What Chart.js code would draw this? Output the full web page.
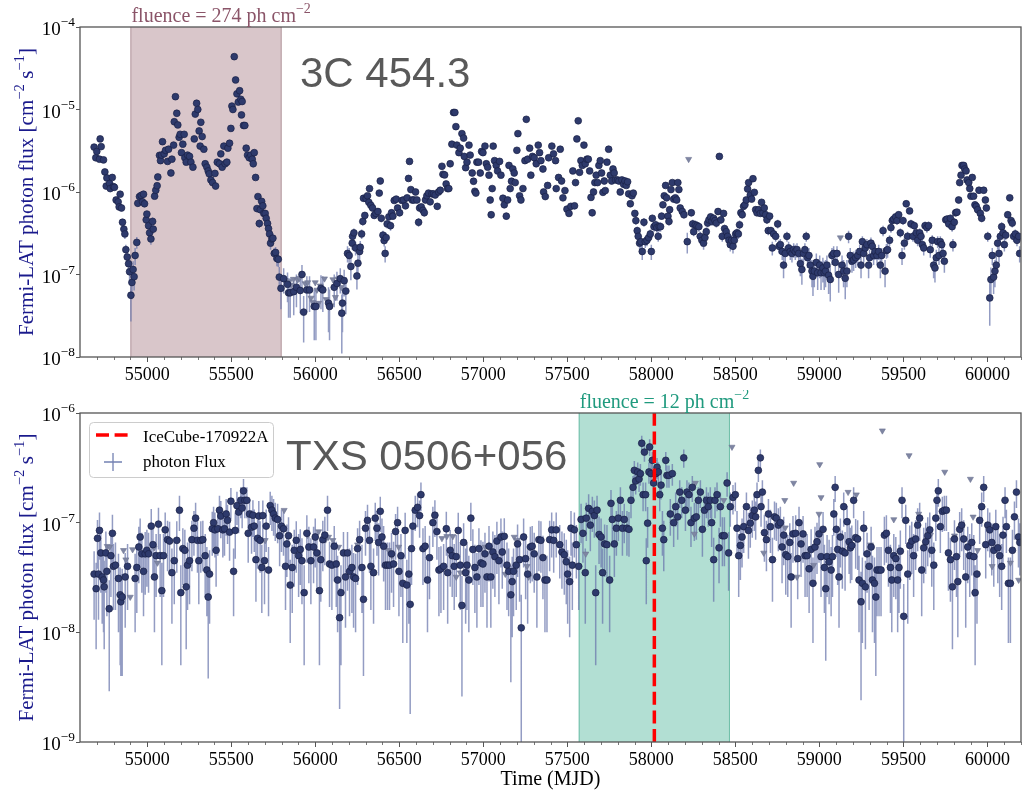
<!DOCTYPE html>
<html>
<head>
<meta charset="utf-8">
<script src="https://cdn.jsdelivr.net/npm/chart.js@4.4.0/dist/chart.umd.min.js"></script>
<style>
  body { margin: 0; background: #fff; }
  #wrap { position: relative; width: 1029px; height: 791px; overflow: hidden; }
  canvas { position: absolute; left: 0; }
</style>
</head>
<body>
<div id="wrap">
  <canvas id="c3c" width="1029" height="390" style="top:0"></canvas>
  <canvas id="ctxs" width="1029" height="401" style="top:390px"></canvas>
</div>
<script>
// fluxes are in units of 1e-8 ph cm^-2 s^-1
const UNIT = 1e-8;

const xTicks = [55000, 55500, 56000, 56500, 57000, 57500, 58000, 58500, 59000, 59500, 60000];
const xRange = [54600, 60200];

// 3C 454.3 weekly bins: [MJD, flux, error]
const obs3C = [
  [54684,350,15],[54694,260,12],[54700,310,14],[54716,250,12],[54720,440,18],[54726,355,15],[54740,245,12],[54748,175,9],[54756,118,7],[54760,148,8],
  [54776,127,7],[54780,110,7],[54792,150,8],[54799,116,7],[54805,114,7],[54815,80,6],[54827,76,6],[54833,66,5],[54839,94,6],[54847,64,5],
  [54853,43,4],[54861,35.5,4],[54867,31,4],[54873,20,3],[54881,16.3,3],[54889,13.5,3],[54895,10.8,3],[54903,5.6,2.9],[54909,8,3],[54916,11.5,3],
  [54922,9.4,3],[54928,17,4],[54938,24.5,4],[54944,73,6],[54954,88,6],[54964,91,6],[54972,76,6],[54978,94,6],[54984,72,6],[54994,46,5],
  [54998,54,5],[55008,39,4],[55014,32,4],[55022,27,4],[55032,44,5],[55036,35.5,4],[55044,89,7],[55051,105,7],[55059,119,8],[55063,152,9],
  [55073,278,14],[55079,240,12],[55085,280,14],[55091,407,18],[55101,290,14],[55109,320,15],[55121,235,12],[55127,330,15],[55141,170,10],[55147,250,12],
  [55157,370,16],[55161,710,25],[55168,1430,40],[55176,900,30],[55182,650,25],[55190,460,20],[55196,500,20],[55204,300,14],[55212,380,16],[55220,500,20],
  [55224,260,13],[55232,230,12],[55240,280,14],[55252,270,13],[55260,230,12],[55272,200,11],[55280,440,18],[55286,880,30],[55294,1190,35],[55301,1000,32],
  [55309,550,22],[55315,360,16],[55319,700,25],[55327,470,20],[55337,330,15],[55345,220,12],[55355,200,11],[55363,180,10],[55369,166,10],[55379,140,9],
  [55389,130,9],[55403,168,10],[55407,118,8],[55417,230,12],[55430,220,12],[55438,290,14],[55446,200,11],[55456,360,16],[55464,220,12],[55474,230,12],
  [55480,340,15],[55490,390,17],[55498,590,22],[55504,1100,35],[55510,1000,32],[55518,4370,80],[55526,2280,55],[55534,1550,45],[55542,1230,38],[55550,1690,45],
  [55557,1330,40],[55561,860,30],[55565,1250,38],[55573,640,24],[55581,640,24],[55589,340,15],[55597,280,14],[55607,260,13],[55617,280,14],[55625,250,12],
  [55631,220,12],[55637,300,14],[55645,150,9],[55653,63,6],[55659,88,6],[55667,41.5,5],[55673,61,6],[55681,77,6],[55688,68,6],[55694,55,5],
  [55702,55,5],[55708,48,5],[55716,41.5,5],[55722,36,4],[55728,31,4],[55734,24,4],[55742,27,4],[55748,27.5,4],[55756,18,3],[55764,18.5,3],
  [55772,15.6,3],[55780,15.3,3],[55786,9.3,3],[55796,6.8,3],[55812,8.9,3],[55835,7.6,3],[55841,6,3],[55851,6,3],[55872,6.2,3],[55888,7,3],
  [55911,6.4,3],[55921,10,3],[55931,3.5,2],[55950,6.5,3],[55966,6.5,3],[55994,4.1,2.5],[56004,4.1,2.5],[56034,6.8,3],[56045,6.5,3],[56079,4.5,2.5],
  [56085,4.1,2.5],[56113,7,3],[56129,7.8,3],[56149,8.9,3],[56158,3.4,2.3],[56162,4.5,2.5],[56172,8.4,3],[56182,6.3,3],[56192,18,4],[56202,17,4],
  [56212,12.5,4],[56220,24,4],[56222,29,4],[56230,32,4],[56240,21,4],[56248,9.6,3],[56254,13.7,4],[56264,19,4],[56268,21.4,4],[56276,31,4],
  [56283,44,5],[56287,84,6],[56295,52,5],[56303,83,6],[56311,90,6],[56319,75,6],[56323,110,7],[56331,69,6],[56341,64,5],[56351,52,5],
  [56361,55,5],[56373,58,5],[56381,97,7],[56387,136,8],[56393,48,5],[56403,30,4],[56410,25.8,4],[56416,18,4],[56422,28,4],[56428,41,5],
  [56438,50,5],[56448,39,5],[56454,56,5],[56462,51,5],[56470,79,6],[56482,82,6],[56490,64,5],[56502,56,5],[56516,79,6],[56526,80,6],
  [56537,68,6],[56547,85,6],[56555,146,9],[56561,235,12],[56569,107,7],[56577,80,6],[56587,80,6],[56597,100,7],[56605,80,6],[56615,43,5],
  [56621,64,5],[56631,66,6],[56641,60,5],[56649,56,5],[56656,80,6],[56664,90,6],[56674,97,7],[56684,76,6],[56694,95,7],[56704,95,7],
  [56714,92,7],[56726,67,6],[56734,100,7],[56744,105,7],[56754,205,11],[56760,164,10],[56770,161,10],[56779,125,8],[56787,110,7],[56795,110,7],
  [56803,220,12],[56813,380,16],[56823,920,30],[56831,920,30],[56837,620,24],[56843,370,16],[56855,300,14],[56863,340,15],[56873,510,20],[56883,450,18],
  [56887,270,13],[56895,197,11],[56903,230,12],[56915,370,16],[56922,280,14],[56934,170,10],[56942,135,8],[56950,102,7],[56956,97,7],[56962,230,12],
  [56972,230,12],[56982,170,10],[56990,310,14],[56998,300,14],[57010,360,16],[57018,220,12],[57026,200,11],[57034,160,10],[57041,80,6],[57047,53,5],
  [57053,110,7],[57059,360,16],[57067,240,12],[57077,210,11],[57085,180,10],[57097,235,12],[57105,160,10],[57117,84,6],[57125,70,6],[57137,51,5],
  [57145,80,6],[57153,210,11],[57160,110,7],[57168,135,8],[57176,190,11],[57184,170,10],[57190,130,8],[57200,320,15],[57206,510,20],[57216,90,6],
  [57224,80,6],[57236,110,7],[57248,240,12],[57256,760,28],[57264,250,12],[57276,340,15],[57283,160,10],[57293,270,13],[57303,260,13],[57315,220,12],
  [57327,370,16],[57335,300,14],[57343,240,12],[57355,190,11],[57359,100,7],[57369,88,6],[57383,120,8],[57389,260,13],[57408,360,16],[57418,290,14],
  [57430,240,12],[57434,110,7],[57448,150,9],[57458,330,15],[57466,136,8],[57474,85,6],[57486,104,7],[57498,62,5],[57510,55,5],[57521,67,6],
  [57533,180,10],[57543,68,6],[57549,130,8],[57557,440,18],[57565,730,26],[57573,173,10],[57581,240,12],[57589,210,11],[57599,370,16],[57607,220,12],
  [57617,250,12],[57625,250,12],[57633,180,10],[57641,86,6],[57648,56,5],[57656,100,7],[57664,130,8],[57672,160,10],[57680,130,8],[57688,210,11],
  [57696,240,12],[57704,170,10],[57712,99,7],[57720,136,8],[57726,104,7],[57736,230,12],[57746,330,15],[57756,160,10],[57764,136,8],[57772,190,11],
  [57779,170,10],[57787,140,9],[57799,140,9],[57807,136,8],[57815,100,7],[57825,140,9],[57835,124,8],[57843,136,8],[57851,120,8],[57859,133,8],
  [57865,95,7],[57875,72,6],[57885,90,6],[57893,97,7],[57902,55,5],[57908,45,5],[57916,34,4],[57922,29,4],[57930,24,4],[57938,25,4],
  [57946,19,4],[57956,43,5],[57964,25,4],[57974,26,4],[57984,28,4],[57994,31,4],[58000,19,4],[58006,48,5],[58016,38,5],[58026,40,5],
  [58033,37,5],[58041,29,4],[58047,38,5],[58055,38,5],[58061,51,5],[58069,70,6],[58077,90,6],[58085,120,8],[58091,85,6],[58099,51,5],
  [58105,44,5],[58109,61,6],[58117,107,7],[58125,130,8],[58133,82,6],[58143,85,6],[58151,80,6],[58158,130,8],[58164,107,7],[58172,64,5],
  [58184,58,5],[58194,53,5],[58214,25,7],[58238,56,5],[58246,41,5],[58252,33,4],[58262,40,5],[58272,39,5],[58283,38,5],[58291,29,4],
  [58301,26,4],[58311,24,4],[58319,28,4],[58327,33,4],[58335,42,5],[58343,46,5],[58353,50,5],[58361,44,5],[58371,48,5],[58379,45,5],
  [58387,42,5],[58397,58,5],[58405,270,13],[58414,46,5],[58422,29,4],[58430,55,5],[58436,36,4],[58446,33,4],[58454,29,4],[58462,26,4],
  [58470,23,4],[58478,26,4],[58486,22,4],[58494,26,4],[58502,31,4],[58510,32,4],[58518,31,4],[58525,40,5],[58533,56,5],[58541,53,5],
  [58549,67,6],[58557,70,6],[58565,80,6],[58573,109,7],[58579,130,8],[58589,92,7],[58597,82,6],[58605,145,9],[58613,99,7],[58621,61,6],
  [58629,56,5],[58639,61,6],[58649,55,5],[58656,75,6],[58664,56,5],[58672,64,5],[58680,53,5],[58688,46,5],[58696,34,4],[58704,51,5],
  [58712,34,4],[58720,21,4],[58728,31,4],[58740,29,4],[58752,41,5],[58760,22,4],[58768,23,4],[58779,19,4],[58787,13,4],[58797,18,4],
  [58807,29,4],[58817,21,4],[58827,19,4],[58837,18,4],[58847,20,4],[58857,19,4],[58867,20,4],[58877,18,4],[58887,13.5,4],[58896,11.5,4],
  [58906,18,4],[58914,20,4],[58922,29,4],[58930,16,4],[58938,17,4],[58946,13,4],[58956,11,4],[58962,9.5,4],[58970,11,4],[58982,14,4],
  [58990,10.5,4],[59002,13,4],[59010,10.5,4],[59021,12,4],[59029,10.5,4],[59037,11,4],[59045,13,4],[59055,9.8,4],[59065,8.7,4],[59075,17,4],
  [59085,18,4],[59095,14,4],[59105,18,4],[59115,10,4],[59135,13,4],[59144,11,4],[59154,9,4],[59164,11,4],[59174,29,5],[59184,17,4],
  [59194,14.5,4],[59204,15,4],[59216,16,4],[59228,17,4],[59240,19,4],[59248,13,4],[59256,25,4],[59264,18,4],[59273,21,4],[59283,23,4],
  [59293,13,4],[59299,16,4],[59307,24,4],[59315,22,4],[59323,17,4],[59331,19,4],[59343,17,4],[59353,19,4],[59363,13,4],[59371,17,4],
  [59379,34,5],[59391,11,4],[59399,19.5,4],[59406,20,4],[59418,26,4],[59426,37,5],[59434,45,5],[59442,47,5],[59454,50,5],[59462,45,5],
  [59472,53,5],[59482,32,4],[59492,17,4],[59498,45,5],[59506,24,4],[59517,72,6],[59525,29,4],[59537,59,5],[59545,41,5],[59557,29,4],
  [59565,39,5],[59577,32,4],[59585,26,4],[59597,32,4],[59605,29,4],[59613,23,4],[59621,21,4],[59629,39,5],[59640,37,5],[59650,39,5],
  [59660,20,4],[59672,26,4],[59680,13,4],[59688,12,4],[59696,16,4],[59704,25,4],[59712,17,4],[59720,25,4],[59728,23,4],[59736,18,4],
  [59744,14.5,4],[59752,46,5],[59760,47,5],[59770,41,5],[59780,48,5],[59790,38,5],[59795,23,4],[59803,43,5],[59811,56,5],[59819,57,5],
  [59829,80,6],[59835,130,8],[59843,160,10],[59849,210,11],[59859,210,11],[59865,190,11],[59873,180,10],[59879,140,9],[59889,130,8],[59895,110,7],
  [59902,89,6],[59910,150,9],[59918,89,6],[59926,70,6],[59934,67,6],[59942,61,6],[59950,105,7],[59958,55,5],[59966,48,5],[59978,105,7],
  [59988,80,6],[59994,64,5],[60002,29,4],[60014,5.2,2.8],[60021,8.7,3.5],[60029,17,4],[60037,9.3,3.5],[60045,11,4],[60053,13,4],[60061,24,4],
  [60069,18,4],[60077,29,4],[60085,38,5],[60093,32,4],[60101,23,4],[60109,30,4],[60121,53,5],[60133,85,6],[60141,45,5],[60148,42,5],
  [60156,29,4],[60166,31,4],[60176,26,4],[60186,29,4],[60192,18,4]
];
// 3C 454.3 upper limits: [MJD, flux]
const ul3C = [
  [55820,8.5],[55845,8.2],[55858,7.5],[55870,8.8],[55880,6.5],[55895,8.6],[55905,9],[55940,7.8],[55955,8],[55975,5.2],
  [55985,4.6],[56000,8],[56010,6.5],[56020,4.5],[56030,7.3],[56055,8.9],[56065,5],[56095,4.2],[56105,8.7],[56120,5.3],
  [56138,8.9],[56155,7],[58222,250],[59125,28]
];

// TXS 0506+056 weekly bins: [MJD, flux, error]
const obsTXS = [
  [54684,3.4,2.1],[54696,2.5,1.8],[54704,7.2,3.4],[54710,3.4,2.1],[54716,8.5,3.9],[54724,5.3,3.0],[54732,3.2,2.0],[54740,3.0,2.0],[54744,2.6,1.9],[54754,5.3,3.0],
  [54760,3.6,2.2],[54774,1.64,1.35],[54784,5.0,2.9],[54793,8.0,3.8],[54799,4.0,2.4],[54811,4.1,2.5],[54829,3.1,2.1],[54839,2.2,1.7],[54843,1.9,1.5],[54851,2.1,1.7],
  [54869,3.2,2.1],[54883,4.0,2.4],[54928,3.1,2.1],[54938,3.9,2.4],[54950,6.0,3.2],[54958,7.4,3.5],[54968,5.2,2.9],[54978,3.6,2.2],[54988,5.2,3.0],[54998,5.6,3.0],
  [55008,5.2,2.9],[55024,9.3,4.0],[55034,6.3,3.2],[55043,3.2,2.2],[55053,5.0,2.9],[55067,9.7,4.0],[55077,5.0,2.9],[55087,2.4,1.9],[55097,5.0,2.9],[55107,8.6,3.8],
  [55121,7.0,3.4],[55133,6.8,3.4],[55147,3.5,2.3],[55161,4.5,2.7],[55176,6.9,3.4],[55192,13,4.6],[55200,2.3,1.8],[55212,5.8,3.1],[55224,5.6,3.0],[55232,2.6,1.9],
  [55240,4.1,2.5],[55252,4.5,2.7],[55266,7.0,3.4],[55278,8.9,3.9],[55288,11,4.2],[55299,6.9,3.4],[55307,4.5,2.7],[55319,6.9,3.4],[55331,7.0,3.4],[55345,5.0,2.9],
  [55355,3.7,2.3],[55363,2.1,1.72],[55371,3.4,2.2],[55387,8.8,3.8],[55395,10,4.0],[55403,8.6,3.8],[55410,5.6,3.0],[55420,8.8,3.8],[55430,13,4.6],[55438,11.5,4.3],
  [55450,8.6,3.8],[55460,8.8,3.8],[55470,12,4.4],[55478,10.5,4.1],[55490,8.2,3.7],[55498,15.7,5.0],[55514,3.6,2.2],[55524,8.5,3.8],[55534,14.3,4.8],[55544,12.5,4.5],
  [55557,16,5.0],[55565,13.6,4.7],[55573,19.5,5.5],[55581,16,5.0],[55593,16,5.0],[55601,8,3.7],[55609,12,4.4],[55621,9.1,3.9],[55629,11.7,4.3],[55637,9.3,3.9],
  [55647,4.6,2.7],[55657,7.2,3.4],[55664,11.5,4.3],[55672,6.9,3.4],[55682,3.9,2.4],[55688,11.6,4.3],[55698,4.5,2.7],[55708,9.3,3.9],[55722,3.7,2.3],[55732,14.3,4.8],
  [55742,13,4.6],[55752,12,4.4],[55762,11,4.2],[55776,10.7,4.2],[55788,7.6,3.6],[55799,9.3,3.9],[55811,8.8,3.8],[55823,4.0,2.4],[55831,6.4,3.2],[55841,7.6,3.6],
  [55851,2.7,1.9],[55863,3.9,2.4],[55875,5.6,3.0],[55887,6.9,3.4],[55901,5.0,2.9],[55911,5.7,3.0],[55921,4.5,2.7],[55934,2.3,1.8],[55950,8.0,3.7],[55962,6.0,3.2],
  [55974,4.5,2.7],[55990,6.0,3.2],[56000,7.4,3.5],[56010,5.3,2.9],[56025,2.4,1.9],[56033,4.6,2.7],[56045,7.0,3.4],[56057,7.7,3.6],[56073,13,4.6],[56085,4.2,2.5],
  [56099,4.1,2.5],[56113,6.1,3.2],[56125,4.2,2.5],[56133,3.0,2.0],[56145,1.36,1.16],[56153,2.3,1.8],[56168,5.3,2.9],[56180,3.2,2.1],[56192,5.3,2.9],[56204,3.6,2.2],
  [56218,3.9,2.4],[56228,3.2,2.1],[56240,3.1,2.1],[56252,5.8,3.1],[56264,7.0,3.4],[56278,3.9,2.4],[56287,2.0,1.6],[56299,8.9,3.9],[56311,10.5,4.1],[56323,6.9,3.4],
  [56331,4.0,2.4],[56347,3.5,2.3],[56357,11,4.2],[56367,8.9,3.9],[56377,6.6,3.3],[56387,12.7,4.5],[56397,7.4,3.5],[56407,6.1,3.2],[56418,4.1,2.5],[56430,4.1,2.5],
  [56442,4.1,2.5],[56454,5.2,2.9],[56466,4.2,2.5],[56478,8.3,3.7],[56490,10,4.0],[56498,3.6,2.2],[56510,5.0,2.9],[56521,2.8,2.0],[56535,8.5,3.8],[56545,2.7,1.9],
  [56557,3.4,2.2],[56565,1.8,1.62],[56573,5.8,3.1],[56581,9.3,3.9],[56595,13,4.6],[56609,13.8,4.7],[56621,11.6,4.3],[56629,18,5.3],[56641,5.8,3.1],[56654,6.1,3.2],
  [56668,3.0,2.0],[56680,4.8,2.8],[56700,10,4.0],[56712,11.7,4.3],[56724,8.3,3.7],[56736,3.7,2.3],[56748,3.8,2.3],[56764,4.0,2.4],[56780,8.8,3.8],[56788,3.5,2.3],
  [56803,5.6,3.0],[56815,5.0,2.9],[56827,4.0,2.4],[56839,4.9,2.8],[56851,8.5,3.8],[56863,4.1,2.5],[56873,1.76,1.5],[56883,6.6,3.3],[56895,3.5,2.3],[56903,4.1,2.5],
  [56914,3.0,2.0],[56926,11,4.2],[56938,5.7,3.0],[56950,3.9,2.4],[56962,3.2,2.1],[56974,5.8,3.1],[56986,4.3,2.6],[56998,4.2,2.5],[57010,5.2,2.9],[57022,3.2,2.1],
  [57034,6.1,3.2],[57045,3.2,2.1],[57057,5.4,2.9],[57069,4.9,2.8],[57081,6.8,3.4],[57093,4.5,2.7],[57105,7.4,3.5],[57113,5.4,2.9],[57125,7.5,3.5],[57141,4.1,2.5],
  [57151,3.6,2.2],[57164,2.2,1.85],[57172,2.9,2.0],[57180,3.6,2.2],[57196,4.1,2.5],[57204,6.4,3.2],[57216,4.6,2.7],[57226,1.1,1.1],[57240,7.4,3.5],[57252,4.7,2.7],
  [57264,3.4,2.2],[57280,6.0,3.2],[57291,6.1,3.2],[57303,5.2,2.9],[57319,3.2,2.1],[57331,7.0,3.4],[57343,6.9,3.4],[57355,4.8,2.8],[57367,3.0,2.0],[57379,3.0,2.0],
  [57395,7.0,3.4],[57407,8.6,3.8],[57419,6.9,3.4],[57434,8.6,3.8],[57455,6.3,3.2],[57468,5.4,2.9],[57482,5.1,2.9],[57494,4.4,2.6],[57502,3.4,2.2],[57514,2.9,2.0],
  [57522,8.9,3.9],[57530,4.1,2.5],[57542,8.6,3.8],[57554,6.3,3.2],[57568,4.0,2.4],[57582,10.7,4.2],[57593,8.0,3.7],[57607,3.5,2.3],[57613,11,4.2],[57627,13.5,4.7],
  [57637,9.5,4.0],[57649,12.7,4.5],[57661,11.6,4.3],[57669,2.3,1.8],[57677,13,4.6],[57689,7.8,3.6],[57701,7.4,3.5],[57710,3.5,2.3],[57722,6.4,3.2],[57736,6.3,3.2],
  [57752,3.0,2.0],[57760,15,4.9],[57768,10.7,4.2],[57780,6.4,3.2],[57792,8.9,3.9],[57804,11,4.2],[57816,16,5.0],[57828,8.9,3.9],[57839,10.7,4.2],[57855,8.9,3.9],
  [57867,8.7,3.8],[57879,16,5.0],[57891,21,5.6],[57899,30,6.5],[57907,24,5.9],[57919,29,6.4],[57927,25,6.0],[57935,28,6.3],[57943,53,9.0],[57951,18,5.3],
  [57959,44,8.0],[57966,18,5.3],[57970,4.5,2.7],[57978,9.9,4.0],[57986,29,6.4],[57990,49,8.5],[57998,28,6.3],[58006,37,7.2],[58014,23,5.8],[58026,28,6.3],
  [58034,32,6.8],[58042,29,6.4],[58050,18,5.3],[58058,22,5.7],[58066,8.9,3.9],[58074,7.0,3.4],[58086,37,7.2],[58093,27,6.2],[58105,27,6.2],[58113,12,4.4],
  [58125,28,6.3],[58133,10,4.0],[58145,14,4.8],[58157,11.3,4.3],[58169,19,5.4],[58181,16,5.0],[58193,39,7.4],[58203,13,4.6],[58212,19,5.4],[58224,18,5.3],
  [58236,10,4.0],[58244,21,5.6],[58256,11,4.2],[58268,11.3,4.3],[58280,16,5.0],[58292,19,5.4],[58304,8.7,3.8],[58316,13,4.6],[58328,16,5.0],[58339,14,4.8],
  [58351,16,5.0],[58359,10,4.0],[58371,4.6,2.7],[58379,16,5.0],[58391,18,5.3],[58403,5.9,3.1],[58411,14,4.8],[58423,7.6,3.6],[58435,7.6,3.6],[58451,23,5.8],
  [58460,5.3,2.9],[58470,14,4.8],[58486,17,5.1],[58500,18,5.3],[58510,8.9,3.9],[58520,5.0,2.9],[58530,6.2,3.2],[58540,7.4,3.5],[58550,9.2,3.9],[58566,14,4.8],
  [58578,8.5,3.8],[58589,9.9,4.0],[58601,11.6,4.3],[58613,13,4.6],[58621,11.3,4.3],[58629,18,5.3],[58637,30,6.5],[58649,39,7.4],[58653,14,4.8],[58661,19,5.4],
  [58673,8.1,3.7],[58685,7.0,3.4],[58697,12,4.4],[58709,9.2,3.9],[58721,4.6,2.7],[58733,11.3,4.3],[58744,11,4.2],[58756,9.5,4.0],[58768,10,4.0],[58778,6.0,3.2],
  [58788,7.7,3.6],[58800,5.1,2.9],[58812,4.9,2.8],[58824,6.6,3.3],[58832,3.2,2.1],[58843,7.9,3.6],[58859,8.0,3.7],[58871,4.7,2.7],[58879,10,4.0],[58891,6.4,3.2],
  [58903,7.9,3.6],[58915,5.0,2.9],[58927,5.0,2.9],[58939,3.8,2.3],[58951,5.7,3.0],[58962,2.8,2.0],[58974,6.0,3.2],[58986,6.7,3.3],[58998,7.9,3.6],[59010,4.9,2.8],
  [59022,8.7,3.8],[59030,3.9,2.4],[59038,2.5,1.95],[59046,4.9,2.8],[59058,4.4,2.6],[59070,3.7,2.3],[59078,4.9,2.8],[59086,12,4.4],[59094,21,5.6],[59101,8.7,3.8],
  [59109,5.7,3.0],[59117,3.2,2.1],[59125,7.4,3.5],[59137,5.5,3.0],[59145,14,4.8],[59153,5.3,2.9],[59165,10.2,4.1],[59177,6.7,3.3],[59185,5.9,3.1],[59193,6.2,3.2],
  [59204,16,5.0],[59216,7.3,3.5],[59228,7.1,3.4],[59236,3.0,2.0],[59248,1.9,1.66],[59256,2.8,2.0],[59264,8.9,3.9],[59274,2.6,1.9],[59284,5.2,2.9],[59296,4.0,2.4],
  [59308,6.0,3.2],[59316,3.0,2.0],[59328,2.8,2.0],[59336,2.1,1.7],[59343,3.7,2.3],[59355,3.7,2.3],[59367,3.7,2.3],[59387,7.7,3.6],[59399,8.0,3.7],[59411,5.6,3.0],
  [59423,3.9,2.4],[59431,3.0,2.0],[59443,5.0,2.9],[59455,4.7,2.7],[59466,3.0,2.0],[59474,3.9,2.4],[59482,5.5,3.0],[59492,16,5.0],[59502,1.4,1.36],[59514,10.5,4.1],
  [59526,3.4,2.2],[59538,6.2,3.2],[59550,6.8,3.4],[59561,5.0,2.9],[59573,7.1,3.4],[59585,9.5,4.0],[59597,11,4.2],[59609,3.7,2.3],[59621,5.9,3.1],[59633,6.7,3.3],
  [59645,7.6,3.6],[59657,8.6,3.8],[59669,5.6,3.0],[59681,4.1,2.5],[59693,11,4.2],[59700,16,5.0],[59708,19.5,5.5],[59720,9.2,3.9],[59732,12.7,4.5],[59744,13,4.6],
  [59756,13,4.6],[59768,5.3,2.9],[59780,4.6,2.7],[59792,2.6,1.9],[59804,7.1,3.4],[59816,4.9,2.8],[59824,2.9,2.0],[59835,8.7,3.8],[59847,9.5,4.0],[59859,7.1,3.4],
  [59871,3.2,2.1],[59883,6.0,3.2],[59895,5.0,2.9],[59907,6.6,3.3],[59919,4.9,2.8],[59927,2.3,1.8],[59938,3.4,2.2],[59954,10.5,4.1],[59966,14,4.8],[59978,21,5.6],
  [59990,6.3,3.2],[60002,9.5,4.0],[60014,8.6,3.8],[60026,6.6,3.3],[60038,5.6,3.0],[60050,9.2,3.9],[60062,5.9,3.1],[60073,5.0,2.9],[60085,4.0,2.4],[60093,7.7,3.6],
  [60105,16,5.0],[60113,9.2,3.9],[60125,2.8,2.0],[60137,2.8,2.0],[60149,5.6,3.0],[60161,11.3,4.3],[60173,19,5.4],[60185,7.4,3.5],[60193,6.6,3.3]
];
// TXS 0506+056 upper limits: [MJD, flux]
const ulTXS = [
  [54762,6.1],[54776,6.0],[54859,5.6],[54873,4.6],[54899,2.1],[54913,5.7],[55041,5.9],[55061,4.3],[55702,6.9],[55815,13],
  [55954,7.7],[56020,8.3],[56062,7.0],[56079,7.4],[56105,6.9],[56139,6.0],[56252,6.3],[56436,5.6],[56456,5.0],[56496,6.0],
  [56754,7.2],[56783,7.5],[56819,7.5],[56839,3.2],[56863,3.5],[56903,3.5],[57012,6.0],[57131,3.4],[57184,7.4],[57200,6.9],
  [57260,4.0],[57270,3.2],[57610,5.2],[58256,7.9],[58262,23],[58431,16],[58480,49],[58669,5.3],[58794,16],[58797,9.0],
  [58847,23],[58867,3.2],[58966,4.1],[58998,12],[59002,34],[59010,17],[59171,19],[59220,18],[59304,6.3],[59375,69],
  [59443,10.7],[59534,41],[59591,12],[59661,7.7],[59746,29],[59804,7.6],[59899,25],[59915,11.3],[59942,5.6],[60028,4.0],
  [60058,6.0],[60137,4.3],[60186,3.0]
];

const flare3C = [54900, 55800];      // fluence window, 3C 454.3
const windowTXS = [57568, 58468];    // fluence window, TXS 0506+056
const iceCubeMjd = 58018;            // IceCube-170922A arrival

const SERIF = '"Liberation Serif", "Times New Roman", serif';
const SANS = '"Liberation Sans", Arial, sans-serif';
const AXIS = '#555555';

const points = rows => rows.map(r => ({x: r[0], y: r[1] * UNIT}));

// vertical error bars as broken line segments
function errorBars(rows) {
  const out = [];
  rows.forEach(([m, f, e]) => {
    out.push({x: m, y: Math.max(f - e, 1e-3) * UNIT}, {x: m, y: (f + e) * UNIT}, {x: m, y: null});
  });
  return out;
}

// draws a run of text pieces, superscripts raised and smaller
function richText(ctx, parts, x, y, size, align) {
  const sup = size * 0.7;
  const widths = parts.map(p => { ctx.font = (p.sup ? sup : size) + 'px ' + SERIF; return ctx.measureText(p.t).width; });
  const total = widths.reduce((a, b) => a + b, 0);
  let cx = align === 'right' ? x - total : align === 'center' ? x - total / 2 : x;
  ctx.textAlign = 'left';
  ctx.textBaseline = 'alphabetic';
  parts.forEach((p, i) => {
    ctx.font = (p.sup ? sup : size) + 'px ' + SERIF;
    ctx.fillText(p.t, cx, p.sup ? y - size * 0.45 : y);
    cx += widths[i];
  });
}

const yTitle = [{t: 'Fermi-LAT photon flux [cm'}, {t: '\u22122', sup: true}, {t: ' s'}, {t: '\u22121', sup: true}, {t: ']'}];

const decor = {
  id: 'decor',
  beforeDatasetsDraw(chart, args, o) {
    const {ctx, chartArea: a, scales: {x}} = chart;
    const x0 = x.getPixelForValue(o.band[0]), x1 = x.getPixelForValue(o.band[1]);
    ctx.save();
    ctx.fillStyle = o.bandFill;
    ctx.fillRect(x0, a.top, x1 - x0, a.bottom - a.top);
    ctx.strokeStyle = o.bandEdge;
    ctx.lineWidth = 1;
    ctx.beginPath();
    ctx.moveTo(x0 + 0.5, a.top); ctx.lineTo(x0 + 0.5, a.bottom);
    ctx.moveTo(x1 - 0.5, a.top); ctx.lineTo(x1 - 0.5, a.bottom);
    ctx.stroke();
    ctx.restore();
  },
  afterDraw(chart, args, o) {
    const {ctx, chartArea: a, scales: {x, y}} = chart;
    ctx.save();
    // frame
    ctx.strokeStyle = AXIS;
    ctx.lineWidth = 1.3;
    ctx.strokeRect(a.left, a.top, a.right - a.left, a.bottom - a.top);
    // minor ticks on the time axis
    ctx.lineWidth = 0.8;
    ctx.beginPath();
    for (let m = 54700; m <= xRange[1]; m += 100) {
      if (m % 500 === 0) continue;
      const px = Math.round(x.getPixelForValue(m)) + 0.5;
      ctx.moveTo(px, a.bottom); ctx.lineTo(px, a.bottom + 3);
    }
    ctx.stroke();
    // decade labels
    ctx.fillStyle = '#000';
    y.ticks.forEach(t => {
      const p = Math.round(Math.log10(t.value));
      richText(ctx, [{t: '10'}, {t: '\u2212' + Math.abs(p), sup: true}], a.left - 5, y.getPixelForValue(t.value) + 8, 19, 'right');
    });
    // y title
    ctx.save();
    ctx.translate(33, (a.top + a.bottom) / 2);
    ctx.rotate(-Math.PI / 2);
    ctx.fillStyle = '#1a1a8c';
    richText(ctx, yTitle, 0, 0, 21, 'center');
    ctx.restore();
    // x title
    if (o.xTitle) {
      ctx.fillStyle = '#000';
      ctx.font = '20px ' + SERIF;
      ctx.textAlign = 'center';
      ctx.fillText(o.xTitle, (a.left + a.right) / 2, chart.height - 6);
    }
    // fluence label over the shaded window
    ctx.fillStyle = o.fluenceColor;
    richText(ctx, [{t: o.fluence}, {t: '\u22122', sup: true}], x.getPixelForValue(o.band[0]) + 1, a.top - 5, 20, 'left');
    // source name
    ctx.fillStyle = '#595959';
    ctx.font = '42px ' + SANS;
    ctx.textAlign = 'left';
    ctx.fillText(o.name, o.namePos[0], o.namePos[1]);
    if (o.legend) {
      ctx.fillStyle = 'rgba(255,255,255,0.85)';
      ctx.strokeStyle = '#cccccc';
      ctx.lineWidth = 1;
      ctx.beginPath();
      ctx.roundRect(89.5, 32.5, 184, 55, 4);
      ctx.fill(); ctx.stroke();
      ctx.strokeStyle = '#ff0000';
      ctx.lineWidth = 3.5;
      ctx.setLineDash([13, 5.6]);
      ctx.beginPath(); ctx.moveTo(96, 45); ctx.lineTo(130, 45); ctx.stroke();
      ctx.setLineDash([]);
      ctx.strokeStyle = 'rgba(100,115,170,0.9)';
      ctx.lineWidth = 1.3;
      ctx.beginPath();
      ctx.moveTo(104, 72); ctx.lineTo(122, 72);
      ctx.moveTo(113, 63); ctx.lineTo(113, 81);
      ctx.stroke();
      ctx.fillStyle = '#000';
      ctx.font = '17px ' + SERIF;
      ctx.fillText('IceCube-170922A', 143, 52);
      ctx.fillText('photon Flux', 143, 77);
    }
    ctx.restore();
  }
};

function lightCurve(id, cfg) {
  const datasets = [];
  if (cfg.neutrino) {
    datasets.push({
      data: [{x: cfg.neutrino, y: cfg.yRange[0]}, {x: cfg.neutrino, y: cfg.yRange[1]}],
      showLine: true, borderColor: '#ff0000', borderWidth: 3.5, borderDash: [13, 5.6], pointRadius: 0, clip: 0
    });
  }
  datasets.push({
    data: points(cfg.obs), pointRadius: 3.4, pointBackgroundColor: '#2e3a6c',
    pointBorderColor: '#1a2146', pointBorderWidth: 0.7
  });
  datasets.push({
    data: points(cfg.ul), pointStyle: 'triangle', rotation: 180, pointRadius: 3.5,
    pointBackgroundColor: '#7f86a3', pointBorderColor: '#6d7492', pointBorderWidth: 0.6
  });
  datasets.push({
    data: errorBars(cfg.obs), showLine: true, spanGaps: false, pointRadius: 0,
    borderColor: 'rgba(105,118,172,0.72)', borderWidth: 1.5, clip: 0
  });

  return new Chart(document.getElementById(id), {
    type: 'scatter',
    data: {datasets},
    options: {
      responsive: false,
      animation: false,
      events: [],
      layout: {padding: {left: 0, right: 8, top: cfg.padTop, bottom: 0}},
      plugins: {legend: {display: false}, tooltip: {enabled: false}, decor: cfg.decor},
      scales: {
        x: {
          type: 'linear', min: xRange[0], max: xRange[1],
          afterBuildTicks: s => { s.ticks = xTicks.map(v => ({value: v})); },
          afterFit: s => { s.height = cfg.xHeight; },
          ticks: {font: {family: SERIF, size: 18}, color: '#000', padding: 2, maxRotation: 0, callback: v => String(v)},
          grid: {drawOnChartArea: false, tickLength: 5, color: AXIS, lineWidth: 1},
          border: {display: false}
        },
        y: {
          type: 'logarithmic', min: cfg.yRange[0], max: cfg.yRange[1],
          afterBuildTicks: s => { s.ticks = cfg.decades.map(p => ({value: Math.pow(10, p)})); },
          afterFit: s => { s.width = 80; },
          ticks: {display: false},
          grid: {drawOnChartArea: false, tickLength: 4, color: AXIS, lineWidth: 1},
          border: {display: false}
        }
      }
    },
    plugins: [decor]
  });
}

lightCurve('c3c', {
  obs: obs3C, ul: ul3C, yRange: [1e-8, 1e-4], decades: [-8, -7, -6, -5, -4],
  padTop: 27, xHeight: 33,
  decor: {
    band: flare3C, bandFill: '#d9c6ca', bandEdge: '#b59aa1',
    fluence: 'fluence = 274 ph cm', fluenceColor: '#8a5468',
    name: '3C 454.3', namePos: [300, 87]
  }
});

lightCurve('ctxs', {
  obs: obsTXS, ul: ulTXS, yRange: [1e-9, 1e-6], decades: [-9, -8, -7, -6],
  padTop: 23, xHeight: 49, neutrino: iceCubeMjd,
  decor: {
    band: windowTXS, bandFill: '#b2dfd3', bandEdge: '#6fbfa9',
    fluence: 'fluence = 12 ph cm', fluenceColor: '#1f9a7e',
    name: 'TXS 0506+056', namePos: [286, 80], legend: true, xTitle: 'Time (MJD)'
  }
});
</script>
</body>
</html>
